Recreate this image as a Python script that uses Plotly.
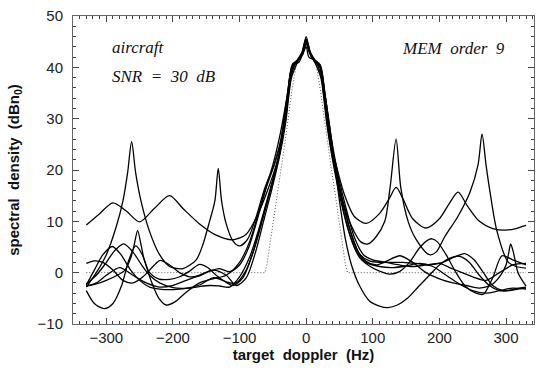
import plotly.graph_objects as go

# ---- data (target doppler in Hz, spectral density in dB) ----
true_x = [-330, -62, -59, -55, -50, -44, -38, -30, -22, -15, -8, 0, 8, 15, 22, 30, 38, 44, 50, 55, 59, 62, 330]
true_y = [0, 0, 1.5, 5, 10, 15, 20, 27, 35, 40.5, 42, 45, 42, 40.5, 35, 27, 20, 15, 10, 5, 1.5, 0, 0]

curve_t_x = [-330, -310, -290, -270, -250, -228, -205, -185, -160, -135, -110, -90, -72, -58, -45, -33, -21, -12, -5, 0, 5, 12, 21, 33, 45, 58, 72, 90, 110, 125, 135, 145, 160, 180, 200, 215, 228, 242, 260, 280, 300, 315, 330]
curve_t_y = [9.3, 11.5, 13.6, 12, 9.9, 12.5, 15, 12.5, 9.5, 7.3, 6.4, 7.5, 11.5, 16, 21, 28, 40, 41.5, 43, 45, 43, 41.5, 40, 28, 21, 15, 11, 9.6, 11.5, 14.5, 16.6, 14.5, 10.5, 8.7, 10.5, 13.5, 15.7, 13, 10, 8.6, 8.3, 8.6, 9.2]

curve_s_x = [-330, -315, -300, -285, -275, -268, -262, -256, -248, -235, -220, -205, -185, -165, -155, -145, -137, -132, -127, -120, -110, -100, -88, -76, -62, -48, -35, -26, -20, -12, -5, 0, 5, 12, 20, 26, 35, 45, 58, 72, 82, 93, 105, 118, 126, 135, 142, 153, 165, 185, 195, 208, 228, 246, 258, 264, 270, 276, 286, 303, 315, 330]
curve_s_y = [-2.8, 0, 3.5, 9, 14, 19.5, 25.5, 19.5, 14, 8, 3.5, 1.2, 0.8, 2.5, 5.5, 10, 14, 20.3, 14, 9.5, 6.2, 5.2, 6.5, 10.5, 16.5, 21, 27, 35, 40.5, 41.5, 43, 45.5, 43, 41.5, 40.5, 35, 26, 19, 12.5, 8, 6, 5.6, 7, 10, 16.6, 26, 16.6, 10, 6.5, 3.5, 4, 7, 11, 15.7, 21, 27, 21, 15.7, 8.3, 2.1, 1.2, 0.9]

curve_d_x = [-330, -318, -303, -290, -277, -266, -256, -246, -233, -221, -210, -197, -180, -160, -140, -120, -100, -85, -73, -62, -50, -39, -29, -21, -13, -6, 0, 6, 13, 21, 29, 39, 50, 59, 68, 80, 95, 110, 123, 137, 152, 168, 185, 200, 215, 230, 245, 260, 275, 290, 305, 318, 330]
curve_d_y = [-3.5, -6, -7, -6, -2.5, 2.5, 5.2, 3.5, -1.5, -5, -6.3, -5.7, -3.8, -2, -1.2, -0.5, 2, 6, 11, 16, 21, 27, 34, 40, 41.2, 42.5, 44.5, 42.5, 41, 40, 34, 25, 14, 6.5, 1.5, -2.5, -5.5, -6.5, -6.8, -6.3, -5, -2.8, -0.5, 1.5, 2.8, 3.2, 2, -0.5, -2.5, -3.5, -3.5, -3.2, -3]

curve_e_x = [-330, -318, -305, -291, -278, -265, -250, -235, -220, -205, -190, -175, -160, -145, -130, -115, -100, -85, -71, -59, -47, -37, -29, -21, -12, -5, 0, 5, 12, 21, 29, 37, 47, 58, 69, 80, 95, 110, 125, 140, 155, 170, 182, 189, 197, 210, 225, 240, 255, 266, 280, 294, 310, 330]
curve_e_y = [-2.4, 0.5, 3.5, 5.1, 3.5, 0.8, -1.5, -2.8, -3.2, -3.3, -3.2, -3, -2.7, -2.5, -2.6, -2.8, -0.8, 3, 8.5, 14, 19.5, 25, 33, 40.5, 41.5, 42.5, 45, 43, 41.5, 40.5, 34, 26, 18.5, 11, 6, 3, 1.3, 0.3, -0.3, 0.2, 2, 4.8, 6.3, 6.6, 6, 3.5, 0, -2.8, -4, -4.2, -1, 3.3, 2.5, 1.5]

curve_f_x = [-330, -315, -300, -285, -272, -263, -258, -253, -248, -243, -235, -222, -205, -190, -175, -160, -148, -135, -120, -105, -90, -77, -64, -52, -40, -30, -22, -13, -6, 0, 6, 13, 22, 30, 40, 52, 64, 76, 90, 105, 120, 141, 160, 180, 200, 220, 240, 260, 280, 292, 300, 304, 307, 311, 318, 330]
curve_f_y = [-2.6, -2.2, -1.5, -0.6, 0.5, 3, 5.5, 8.2, 5.5, 2.5, 0, -1.2, -1.3, -0.8, 0.3, 1.6, 1, -0.5, -1.8, -2, 0.5, 5, 11, 17, 23, 31, 39.5, 41.5, 43, 46, 43, 41.5, 40, 31, 23, 15.5, 9, 4.5, 2.2, 1.5, 2.2, 3.3, 2, 0, -1.2, -2, -2.5, -3, -2.2, -0.5, 1.5, 3.8, 5.6, 4, 0, -2.6]

curve_g_x = [-330, -315, -300, -288, -274, -260, -247, -235, -220, -200, -180, -160, -140, -125, -110, -95, -81, -68, -55, -43, -33, -23, -15, -8, 0, 8, 15, 23, 33, 43, 55, 68, 81, 95, 110, 125, 145, 165, 185, 205, 222, 238, 252, 266, 280, 295, 310, 320, 330]
curve_g_y = [-2.2, -0.5, 2, 4.2, 5.6, 4, 1.5, -0.5, -2, -2.9, -3, -2.4, -1, -1.5, -2.5, -1, 3.5, 9.5, 15.5, 21.5, 29, 38, 41, 42, 45, 42, 41, 38, 29, 21, 14, 7.5, 3.5, 2.3, 2, 2, 2, 1.8, 1.5, 2, 3, 3.7, 2.5, 0, -2.5, -3.5, -3.3, -3, -2.8]

curve_h_x = [-330, -318, -305, -290, -275, -260, -245, -230, -219, -205, -190, -175, -160, -145, -130, -115, -100, -86, -72, -60, -48, -38, -28, -20, -11, -4, 0, 4, 11, 20, 28, 38, 48, 60, 72, 86, 100, 120, 140, 160, 180, 200, 215, 230, 250, 270, 290, 310, 330]
curve_h_y = [1.8, 2.3, 2, 0.5, -1.5, -2, -0.8, 1.2, 2.4, 1.5, 0, -0.8, -0.6, 0.3, 0.8, 0.2, 1.5, 5, 11, 16.5, 21, 26, 35, 40.5, 41, 43, 44, 42, 41.5, 40.5, 35, 26, 19, 12.5, 7, 3.5, 2.5, 2, 1.5, 1.2, 1.5, 1.8, 1, 0.2, -0.8, -1.5, 0, 1.5, 1.8]

curve_i_x = [-330, -315, -300, -280, -260, -240, -220, -200, -180, -160, -140, -120, -105, -90, -76, -64, -52, -41, -31, -22, -13, -6, 0, 6, 13, 22, 31, 41, 52, 64, 76, 90, 110, 130, 150, 170, 190, 210, 230, 250, 270, 290, 310, 330]
curve_i_y = [-2.6, -2, -0.5, 1, -0.5, -2, -2.8, -2.5, -1.5, -0.5, 0.5, -0.5, -2.5, -1, 4, 10, 16, 22, 29, 38, 41, 43, 45.5, 43, 41, 38, 29, 21, 14, 8, 4, 2, 1.2, 1, 1.3, 1.8, 1.2, -0.5, -2.2, -3.5, -4, -3.5, -3, -3.2]

curves = [
    (curve_t_x, curve_t_y), (curve_s_x, curve_s_y), (curve_d_x, curve_d_y),
    (curve_e_x, curve_e_y), (curve_f_x, curve_f_y), (curve_g_x, curve_g_y),
    (curve_h_x, curve_h_y), (curve_i_x, curve_i_y),
]

x_ticks = [-300, -200, -100, 0, 100, 200, 300]
y_ticks = [-10, 0, 10, 20, 30, 40, 50]

fig = go.Figure()
fig.add_trace(go.Scatter(x=true_x, y=true_y, mode="lines",
                         line=dict(color="#555", width=1, dash="1px,2px"), showlegend=False))
for cx, cy in curves:
    fig.add_trace(go.Scatter(x=cx, y=cy, mode="lines",
                             line=dict(color="black", width=1.3, shape="spline", smoothing=0.8),
                             showlegend=False))

axis_font = dict(family="Liberation Sans, Arial", size=15, color="#222")
title_font = dict(family="Liberation Sans, Arial", size=15, color="#111")
fig.update_xaxes(range=[-350, 342], tickvals=x_ticks, ticks="inside", ticklen=6, tickcolor="#444",
                 showline=True, linecolor="#666", linewidth=1, mirror="ticks", showgrid=False,
                 zeroline=False, tickfont=axis_font,
                 minor=dict(dtick=10, ticks="inside", ticklen=3, tickcolor="#444"),
                 title=dict(text="<b>target\u00a0\u00a0doppler\u00a0\u00a0(Hz)</b>", font=title_font, standoff=2))
fig.update_yaxes(range=[-10, 50], tickvals=y_ticks, ticks="inside", ticklen=6, tickcolor="#444",
                 showline=True, linecolor="#666", linewidth=1, mirror="ticks", showgrid=False,
                 zeroline=False, tickfont=axis_font, ticklabelstandoff=6,
                 minor=dict(dtick=2, ticks="inside", ticklen=3, tickcolor="#444"),
                 title=dict(text="<b>spectral\u00a0\u00a0density\u00a0\u00a0(dBn<sub>0</sub>)</b>", font=title_font, standoff=14))

ann_font = dict(family="Liberation Serif, Times New Roman", size=17, color="#111")
fig.add_annotation(x=0.080, y=0.899, xref="paper", yref="paper", xanchor="left", yanchor="middle",
                   text="<i>aircraft</i>", showarrow=False, font=ann_font)
fig.add_annotation(x=0.080, y=0.805, xref="paper", yref="paper", xanchor="left", yanchor="middle",
                   text="<i>SNR\u00a0\u00a0=\u00a0\u00a030\u00a0\u00a0dB</i>", showarrow=False, font=ann_font)
fig.add_annotation(x=0.709, y=0.896, xref="paper", yref="paper", xanchor="left", yanchor="middle",
                   text="<i>MEM\u00a0\u00a0order\u00a0\u00a09</i>", showarrow=False, font=ann_font)

fig.update_layout(width=536, height=369, margin=dict(l=73, r=2, t=16, b=45),
                  plot_bgcolor="white", paper_bgcolor="white")
fig.write_html("out.html")
